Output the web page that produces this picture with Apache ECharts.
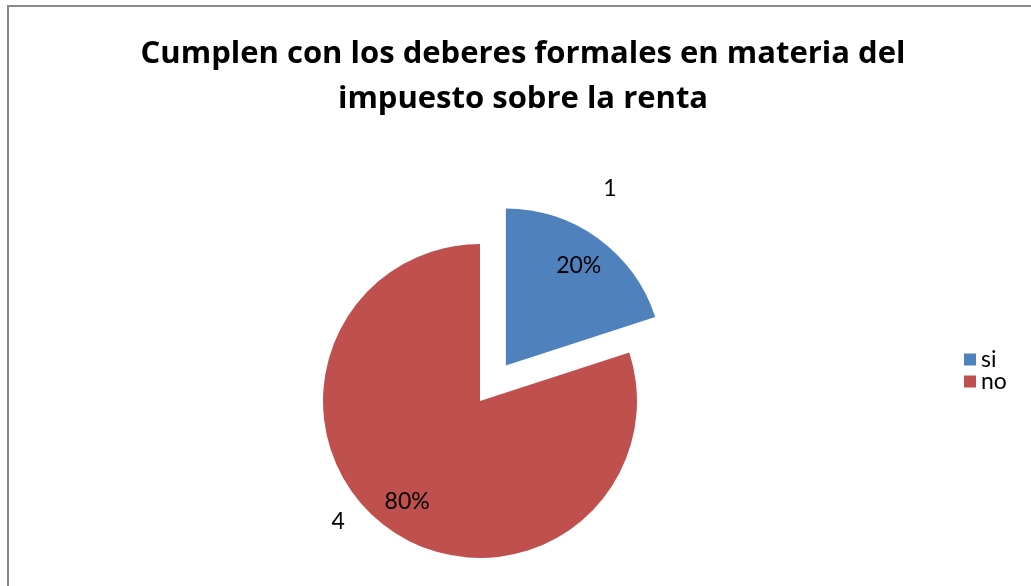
<!DOCTYPE html>
<html>
<head>
<meta charset="utf-8">
<script src="https://cdn.jsdelivr.net/npm/echarts@6/dist/echarts.min.js"></script>
<style>
  html, body { margin: 0; padding: 0; background: #fff; }
  #chart { width: 1031px; height: 586px; }
</style>
</head>
<body>
<div id="chart"></div>
<script>
const categories = ['si', 'no'];
const values = [1, 4];
const colors = ['#4F81BD', '#C0504D'];
const titleText = 'Cumplen con los deberes formales en materia del\nimpuesto sobre la renta';

const font = 'Lato, "Open Sans", sans-serif';
const titleFont = '"Open Sans", Lato, sans-serif';
const center = [480, 401];
const radius = 157;
const explode = 44;

const chart = echarts.init(document.getElementById('chart'), null, { renderer: 'canvas' });

const pieData = categories.map((name, i) => ({
  name: name,
  value: values[i],
  selected: i === 0,
  itemStyle: { color: colors[i] }
}));

const ghostData = categories.map((name, i) => ({
  name: name,
  value: values[i],
  selected: i === 0,
  itemStyle: { color: 'rgba(0,0,0,0)' }
}));

// nudges for the outside value labels
const outsideNudge = [[0, -50], [-38, -6]];

chart.setOption({
  animation: false,
  title: {
    text: titleText,
    left: 518,
    top: 27,
    textAlign: 'center',
    textStyle: {
      fontFamily: titleFont,
      fontWeight: 'bold',
      fontSize: 31,
      lineHeight: 45,
      color: '#000'
    }
  },
  legend: {
    orient: 'vertical',
    left: 959,
    top: 343,
    data: categories,
    icon: 'rect',
    itemWidth: 12,
    itemHeight: 12,
    itemGap: -1,
    selectedMode: false,
    textStyle: { fontFamily: font, fontSize: 23, color: '#000' }
  },
  graphic: [{
    type: 'rect',
    silent: true,
    shape: { x: 8, y: 6, width: 1100, height: 700 },
    style: { fill: 'none', stroke: '#888', lineWidth: 2 }
  }],
  series: [
    {
      type: 'pie',
      center: center,
      radius: [0, radius],
      startAngle: 90,
      clockwise: true,
      selectedMode: 'single',
      selectedOffset: explode,
      silent: true,
      label: { show: false },
      labelLine: { show: false },
      data: pieData
    },
    {
      // percentage labels inside slices
      type: 'pie',
      center: center,
      radius: [85, radius],
      startAngle: 90,
      selectedMode: 'single',
      selectedOffset: explode,
      silent: true,
      label: {
        show: true,
        position: 'inside',
        formatter: '{d}%',
        fontFamily: font,
        fontSize: 23,
        color: '#000'
      },
      labelLine: { show: false },
      data: ghostData
    },
    {
      // value labels outside
      type: 'pie',
      center: center,
      radius: [0, radius],
      startAngle: 90,
      selectedMode: 'single',
      selectedOffset: explode,
      silent: true,
      label: {
        show: true,
        position: 'outside',
        formatter: '{c}',
        fontFamily: font,
        fontSize: 23,
        color: '#000'
      },
      labelLine: { show: false, length: 0, length2: 0 },
      labelLayout: function (params) {
        const n = outsideNudge[params.dataIndex];
        return { dx: n[0], dy: n[1] };
      },
      data: ghostData.map(d => Object.assign({}, d))
    }
  ]
});
</script>
</body>
</html>
